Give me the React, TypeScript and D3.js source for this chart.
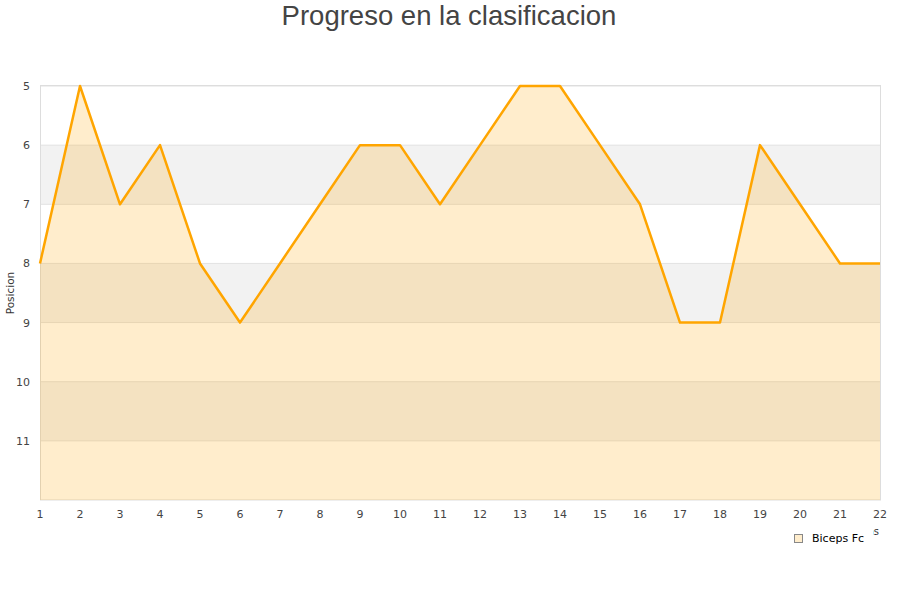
import React from "react";
import * as d3 from "d3";

const jornadas = [1, 2, 3, 4, 5, 6, 7, 8, 9, 10, 11, 12, 13, 14, 15, 16, 17, 18, 19, 20, 21, 22];
const posiciones = [8, 5, 7, 6, 8, 9, 8, 7, 6, 6, 7, 6, 5, 5, 6, 7, 9, 9, 6, 7, 8, 8];
const yTicks = [5, 6, 7, 8, 9, 10, 11];
const bands = [6, 8, 10];
const seriesName = "Biceps Fc";
const title = "Progreso en la clasificacion";

const W = 900;
const H = 600;
const left = 40;
const right = 880;
const top = 86;
const bottom = 500;
const lineColor = "#ffa500";
const fillColor = "rgba(255,165,0,0.2)";
const font = "DejaVu Sans, sans-serif";

export default function App() {
  const x = d3.scaleLinear().domain([1, 22]).range([left, right]);
  const y = d3.scaleLinear().domain([5, 12]).range([top, bottom]);
  const pts = jornadas.map((j, i) => [j, posiciones[i]] as [number, number]);
  const line = d3.line<[number, number]>().x((d) => x(d[0])).y((d) => y(d[1]));
  const area = d3
    .area<[number, number]>()
    .x((d) => x(d[0]))
    .y0(y(12))
    .y1((d) => y(d[1]));

  return (
    <svg width={W} height={H} style={{ position: "absolute", left: 0, top: 0, background: "#fff" }}>
      <text x={449} y={25} textAnchor="middle" fontSize={27.5} fill="#444" fontFamily="Liberation Sans, Arial, sans-serif">
        {title}
      </text>
      {bands.map((b) => (
        <rect key={b} x={left} y={y(b)} width={right - left} height={y(b + 1) - y(b)} fill="#f2f2f2" />
      ))}
      {yTicks.map((t) => (
        <line key={t} x1={left} x2={right} y1={y(t)} y2={y(t)} stroke="#e2e2e2" strokeWidth={1} />
      ))}
      <rect x={left + 0.5} y={top - 0.5} width={right - left} height={bottom - top + 0.5} fill="none" stroke="#ddd" strokeWidth={1} />
      <path d={area(pts) ?? ""} fill={fillColor} />
      <path d={line(pts) ?? ""} fill="none" stroke={lineColor} strokeWidth={2.5} strokeLinejoin="round" />
      {yTicks.map((t) => (
        <text key={t} x={30} y={y(t) + 4} textAnchor="end" fontSize={11} fill="#444" fontFamily={font}>
          {t}
        </text>
      ))}
      {jornadas.map((j) => (
        <text key={j} x={x(j)} y={518} textAnchor="middle" fontSize={11} fill="#444" fontFamily={font}>
          {j}
        </text>
      ))}
      <text
        transform={`translate(14,293) rotate(-90)`}
        textAnchor="middle"
        fontSize={10.5}
        fill="#333"
        fontFamily={font}
      >
        Posicion
      </text>
      <text x={879} y={535} textAnchor="end" fontSize={10} fill="#333" fontFamily={font}>
        Jornadas
      </text>
      <rect x={785} y={527} width={88} height={22} fill="#fff" />
      <rect x={794.5} y={534.5} width={8} height={8} fill="#ffedcc" stroke="#888" strokeWidth={1} />
      <text x={812} y={542} fontSize={11} fill="#000" fontFamily={font}>
        {seriesName}
      </text>
    </svg>
  );
}
